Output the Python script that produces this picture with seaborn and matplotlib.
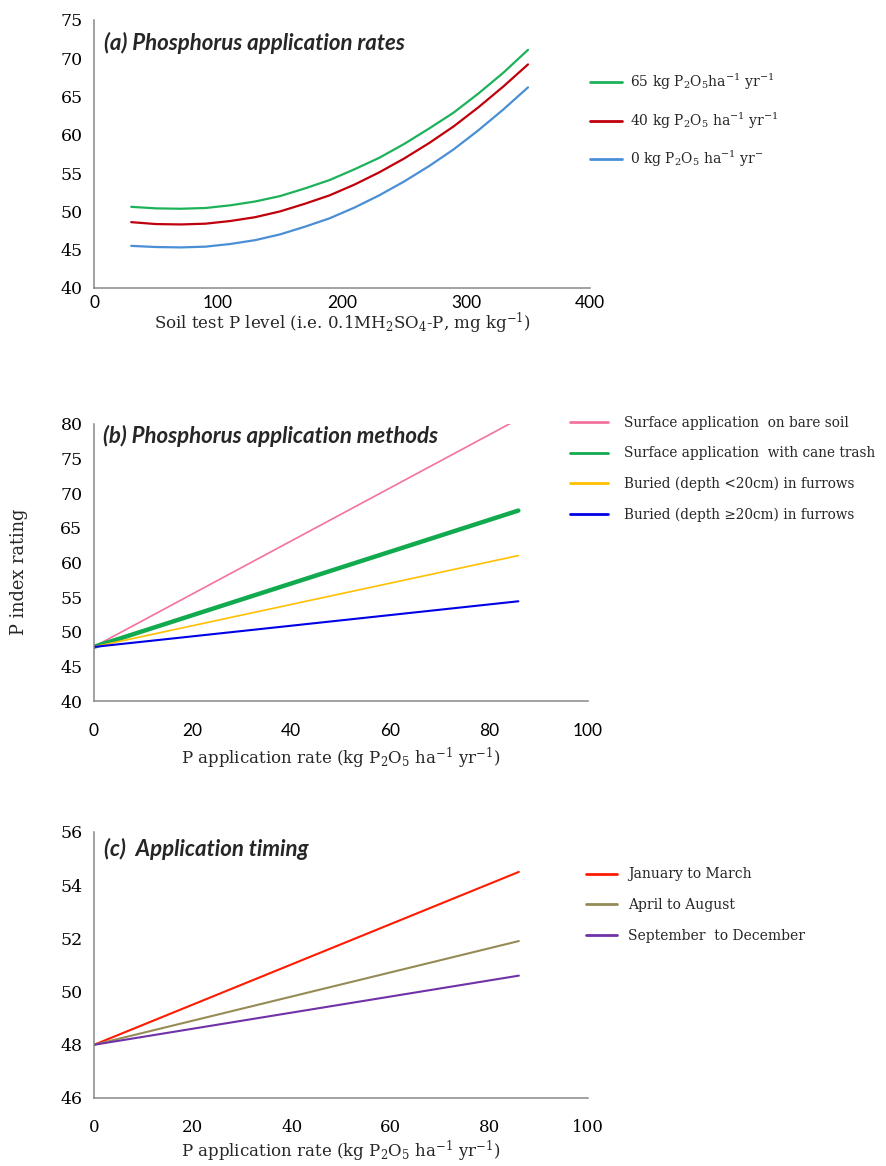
import matplotlib
matplotlib.use("Agg")
import matplotlib.pyplot as plt
import seaborn as sns

# ---- (a) P index vs soil test P, by application rate ----
soil_p = [30, 50, 70, 90, 110, 130, 150, 170, 190, 210, 230, 250, 270, 290, 310, 330, 350]
rate_65 = [50.6, 50.4, 50.35, 50.45, 50.8, 51.3, 52.0, 53.0, 54.1, 55.5, 57.0, 58.8,
           60.8, 62.9, 65.4, 68.1, 71.1]
rate_40 = [48.6, 48.35, 48.3, 48.4, 48.75, 49.25, 50.0, 51.0, 52.1, 53.5, 55.1, 56.9,
           58.9, 61.1, 63.6, 66.3, 69.2]
rate_0 = [45.5, 45.35, 45.3, 45.4, 45.75, 46.25, 47.0, 48.0, 49.1, 50.5, 52.1, 53.9,
          55.9, 58.1, 60.6, 63.3, 66.2]

# ---- (b) P index vs application rate, by method ----
app_rate = [0, 86]
bare_soil = [47.8, 80.7]
cane_trash = [47.8, 67.5]
buried_shallow = [47.8, 61.0]
buried_deep = [47.8, 54.4]

# ---- (c) P index vs application rate, by timing ----
jan_mar = [48.0, 54.5]
apr_aug = [48.0, 51.9]
sep_dec = [48.0, 50.6]

labels_a = [r"65 kg P$_2$O$_5$ha$^{-1}$ yr$^{-1}$",
            r"40 kg P$_2$O$_5$ ha$^{-1}$ yr$^{-1}$",
            r"0 kg P$_2$O$_5$ ha$^{-1}$ yr$^{-}$"]
labels_b = ["Surface application  on bare soil",
            "Surface application  with cane trash",
            "Buried (depth <20cm) in furrows",
            "Buried (depth \u226520cm) in furrows"]
labels_c = ["January to March", "April to August", "September  to December"]

sns.set_style("white")
SERIF = "DejaVu Serif"
SANS = "Lato"
plt.rcParams["font.family"] = [SERIF, "DejaVu Sans"]
plt.rcParams["mathtext.fontset"] = "dejavuserif"

GREY = "#878787"
W, H = 886, 1166
fig = plt.figure(figsize=(W / 100, H / 100), dpi=100)


def box(left, top, right, bottom):
    return [left / W, 1 - bottom / H, (right - left) / W, (bottom - top) / H]


def style_axes(ax, xsans, xpad):
    sns.despine(ax=ax)
    for s in ("left", "bottom"):
        ax.spines[s].set_color(GREY)
        ax.spines[s].set_linewidth(1.1)
    ax.tick_params(axis="both", direction="out", length=4, width=1.0,
                   color=GREY, labelcolor="black")
    ax.tick_params(axis="y", labelsize=12.5, pad=4)
    ax.tick_params(axis="x", labelsize=12.5 if xsans else 12, pad=xpad)
    for t in ax.get_yticklabels():
        t.set_family(SERIF)
    for t in ax.get_xticklabels():
        t.set_family(SANS if xsans else SERIF)
    ax.grid(False)


def add_legend(ax, x0, y_center, fontsize, hlen, tpad, spacing):
    leg = ax.legend(loc="center left", bbox_to_anchor=(x0, y_center),
                    frameon=False, fontsize=fontsize, handlelength=hlen,
                    handletextpad=tpad, borderpad=0, borderaxespad=0,
                    labelspacing=spacing)
    for ln in leg.get_lines():
        ln.set_linewidth(2.0)
    return leg


def title(ax, y, text):
    ax.text(0.02, y, text, transform=ax.transAxes, family=SANS,
            fontweight="bold", style="italic", fontsize=16, va="center")


# Panel (a)
ax_a = fig.add_axes(box(94, 20, 590, 288))
for vals, col, lab in zip([rate_65, rate_40, rate_0],
                          ["#1DB25A", "#C0000B", "#4A8FD6"], labels_a):
    sns.lineplot(x=soil_p, y=vals, ax=ax_a, color=col, lw=1.6, label=lab)
ax_a.set_xlim(0, 400)
ax_a.set_ylim(40, 75)
ax_a.set_xticks([0, 100, 200, 300, 400])
ax_a.set_yticks(range(40, 76, 5))
style_axes(ax_a, True, 1)
ax_a.set_xlabel(r"Soil test P level (i.e. 0.1MH$_2$SO$_4$-P, mg kg$^{-1}$)",
                fontsize=12, labelpad=0)
title(ax_a, 0.915, "(a) Phosphorus application rates")
add_legend(ax_a, 1.0, 0.625, 10, 2.3, 0.6, 1.3)

# Panel (b)
ax_b = fig.add_axes(box(93.5, 424, 587.5, 701))
for vals, col, lw, lab in zip([bare_soil, cane_trash, buried_shallow, buried_deep],
                              ["#F4729C", "#11AA4F", "#FFC000", "#0000E6"],
                              [1.2, 3.2, 1.2, 1.5], labels_b):
    sns.lineplot(x=app_rate, y=vals, ax=ax_b, color=col, lw=lw, label=lab)
ax_b.set_xlim(0, 100)
ax_b.set_ylim(40, 80)
ax_b.set_xticks(range(0, 101, 20))
ax_b.set_yticks(range(40, 81, 5))
style_axes(ax_b, True, 12)
ax_b.set_xlabel(r"P application rate (kg P$_2$O$_5$ ha$^{-1}$ yr$^{-1}$)",
                fontsize=12, labelpad=5)
ax_b.set_ylabel("P index rating", fontsize=12.8)
ax_b.yaxis.set_label_coords(-0.133, 0.466)
title(ax_b, 0.955, "(b) Phosphorus application methods")
add_legend(ax_b, 0.9646, 0.8375, 9.8, 2.8, 1.2, 1.2)

# Panel (c)
ax_c = fig.add_axes(box(94, 832, 588, 1098))
for vals, col, lab in zip([jan_mar, apr_aug, sep_dec],
                          ["#FF1A00", "#958B57", "#7032A8"], labels_c):
    sns.lineplot(x=app_rate, y=vals, ax=ax_c, color=col, lw=1.5, label=lab)
ax_c.set_xlim(0, 100)
ax_c.set_ylim(46, 56)
ax_c.set_xticks(range(0, 101, 20))
ax_c.set_yticks(range(46, 57, 2))
style_axes(ax_c, False, 11)
ax_c.set_xlabel(r"P application rate (kg P$_2$O$_5$ ha$^{-1}$ yr$^{-1}$)",
                fontsize=12, labelpad=2)
title(ax_c, 0.935, "(c)  Application timing")
add_legend(ax_c, 0.995, 0.725, 10, 2.3, 0.75, 1.2)

fig.savefig("out.png", dpi=100, facecolor="white")
